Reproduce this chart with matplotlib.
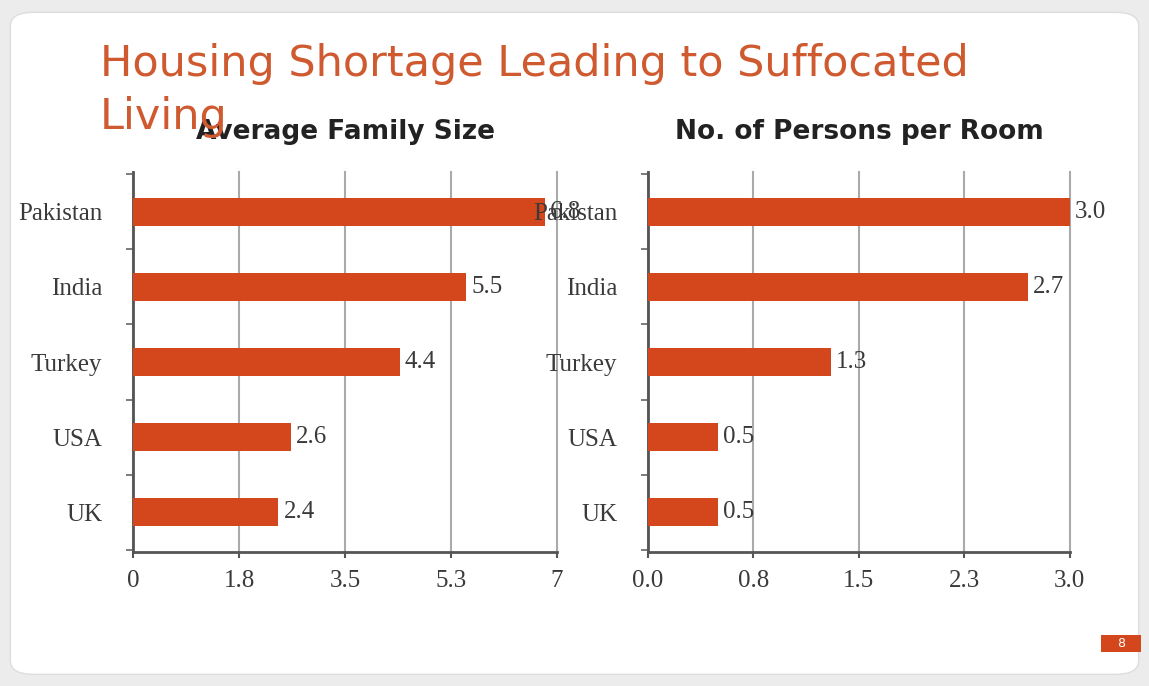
import matplotlib.pyplot as plt
from matplotlib.patches import FancyBboxPatch, Rectangle

# Datos de la diapositiva
countries = ['Pakistan', 'India', 'Turkey', 'USA', 'UK']
family_size = [6.8, 5.5, 4.4, 2.6, 2.4]
persons_per_room = [3.0, 2.7, 1.3, 0.5, 0.5]

family_ticks = [0, 1.75, 3.5, 5.25, 7]
family_tick_labels = ['0', '1.8', '3.5', '5.3', '7']
room_ticks = [0, 0.75, 1.5, 2.25, 3.0]
room_tick_labels = ['0.0', '0.8', '1.5', '2.3', '3.0']

bar_color = '#d4461b'
title_color = '#cf5a30'
serif = 'Liberation Serif'

fig = plt.figure(figsize=(11.49, 6.86), dpi=100, facecolor='#ececec')

# Panel blanco de la diapositiva (detras de todo)
panel = FancyBboxPatch((0.009, 0.017), 0.982, 0.965,
                       boxstyle='round,pad=0,rounding_size=0.02',
                       transform=fig.transFigure, facecolor='white',
                       edgecolor='#dddddd', linewidth=1, zorder=-5)
fig.patches.append(panel)

fig.text(0.087, 0.889, 'Housing Shortage Leading to Suffocated',
         fontsize=31, color=title_color, family='DejaVu Sans')
fig.text(0.087, 0.812, 'Living', fontsize=31, color=title_color,
         family='DejaVu Sans')


def draw_panel(ax, values, ticks, tick_labels, xmax, title):
    pos = range(len(countries))
    ax.barh(pos, values, height=0.38, color=bar_color, zorder=3)
    ax.set_xlim(0, xmax)
    ax.set_ylim(4.53, -0.53)
    ax.set_xticks(ticks)
    ax.set_xticklabels(tick_labels)
    ax.set_yticks(list(pos))
    ax.set_yticklabels(countries)
    ax.set_yticks([i + 0.5 for i in range(-1, len(countries))], minor=True)
    ax.tick_params(axis='y', which='major', length=0, pad=22)
    ax.tick_params(axis='y', which='minor', length=5, width=1.2,
                   color='#666666')
    ax.tick_params(axis='x', length=4, width=1.5, color='#555555', pad=9)
    for lab in ax.get_xticklabels() + ax.get_yticklabels():
        lab.set_fontfamily(serif)
        lab.set_fontsize(18)
        lab.set_color('#3a3a3a')
    ax.grid(axis='x', color='#aaaaaa', linewidth=1.5, zorder=0)
    for gl in ax.get_xgridlines():
        gl.set_clip_on(False)
    ax.set_axisbelow(True)
    for side in ['top', 'right']:
        ax.spines[side].set_visible(False)
    for side in ['left', 'bottom']:
        ax.spines[side].set_color('#555555')
        ax.spines[side].set_linewidth(2)
    for i, v in enumerate(values):
        ax.text(v + xmax * 0.012, i, f'{v:.1f}', va='center', ha='left',
                family=serif, fontsize=18, color='#3a3a3a', zorder=5)
    ax.set_title(title, fontsize=19, fontweight='bold', family='DejaVu Sans',
                 color='#222222', pad=24)


ax1 = fig.add_axes([0.1158, 0.1953, 0.369, 0.554])
draw_panel(ax1, family_size, family_ticks, family_tick_labels, 7,
           'Average Family Size')
ax2 = fig.add_axes([0.564, 0.1953, 0.367, 0.554])
draw_panel(ax2, persons_per_room, room_ticks, room_tick_labels, 3.0,
           'No. of Persons per Room')

# Numero de pagina
fig.patches.append(Rectangle((0.958, 0.05), 0.035, 0.025,
                             transform=fig.transFigure,
                             facecolor=bar_color, edgecolor='none'))
fig.text(0.9755, 0.0625, '8', color='white', fontsize=9,
         ha='center', va='center')

fig.savefig('out.png', dpi=100, facecolor=fig.get_facecolor())
